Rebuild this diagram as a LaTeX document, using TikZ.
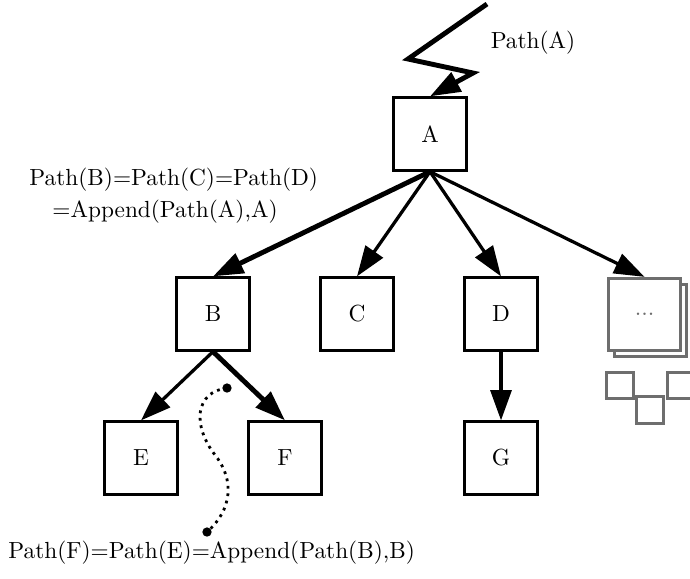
\documentclass[tikz,border=0pt]{standalone}
\usetikzlibrary{arrows.meta}
\definecolor{boxgray}{RGB}{110,110,110}
\begin{document}
\begin{tikzpicture}[x=0.429pt,y=-0.429pt,
  treebox/.style={draw=black,line width=1.3pt,fill=white,minimum size=31pt,inner sep=0pt},
  ghostbox/.style={draw=boxgray,line width=1.3pt,fill=white,minimum size=31pt,inner sep=0pt},
  tinybox/.style={draw=boxgray,line width=1.3pt,fill=white,minimum size=11.2pt,inner sep=0pt},
  edge/.style={line width=1.4pt,-{Triangle[length=13pt,width=9pt]}},
  heavyedge/.style={line width=2.1pt,-{Triangle[length=13pt,width=9pt]}},
  note/.style={inner sep=0pt},
  dotend/.style={circle,fill=black,inner sep=0pt,minimum size=4pt}]
\useasboundingbox (0,0) rectangle (690,578);

% tree nodes
\node[treebox] (A) at (430,134) {A};
\node[treebox] (B) at (213,314) {B};
\node[treebox] (C) at (357,314) {C};
\node[treebox] (D) at (501,314) {D};
\node[treebox] (E) at (141,458) {E};
\node[treebox] (F) at (285,458) {F};
\node[treebox] (G) at (501,458) {G};

% stacked boxes for the remaining children
\node[ghostbox] (more2) at (650.5,320.5) {};
\node[ghostbox] (more) at (644.5,314.5) {\textcolor{boxgray}{...}};
\node[tinybox] (s1) at (620,385.5) {};
\node[tinybox] (s2) at (650,410) {};
\node[tinybox] (s3) at (681,385.5) {};

% incoming path to the root
\coordinate (z0) at (487,4);
\coordinate (z1) at (408,59);
\coordinate (z2) at (473,73);
\draw[heavyedge] (z0) -- (z1) -- (z2) -- (A.north);
\node[note] (pa) at (533,43) {Path(A)};

% edges
\draw[heavyedge] (A.south) -- (B.north);
\draw[edge] (A.south) -- (C.north);
\draw[edge] (A.south) -- (D.north);
\draw[edge] (A.south) -- (more.north);
\draw[edge] (B.south) -- (E.north);
\draw[heavyedge] (B.south) -- (F.north);
\draw[edge] (D.south) -- (G.north);

% labels
\node[note,anchor=west] (l1) at (29,180) {Path(B)=Path(C)=Path(D)};
\node[note,anchor=west] (l2) at (52,212) {=Append(Path(A),A)};
\node[note,anchor=west] (l3) at (8,553) {Path(F)=Path(E)=Append(Path(B),B)};

% dotted pointer
\node[dotend] (d1) at (227,388) {};
\node[dotend] (d2) at (207,532) {};
\draw[line width=1.2pt,dotted] (d1.center) .. controls (195,392) and (192,425) .. (215,455)
  .. controls (235,480) and (232,510) .. (d2.center);
\end{tikzpicture}
\end{document}
